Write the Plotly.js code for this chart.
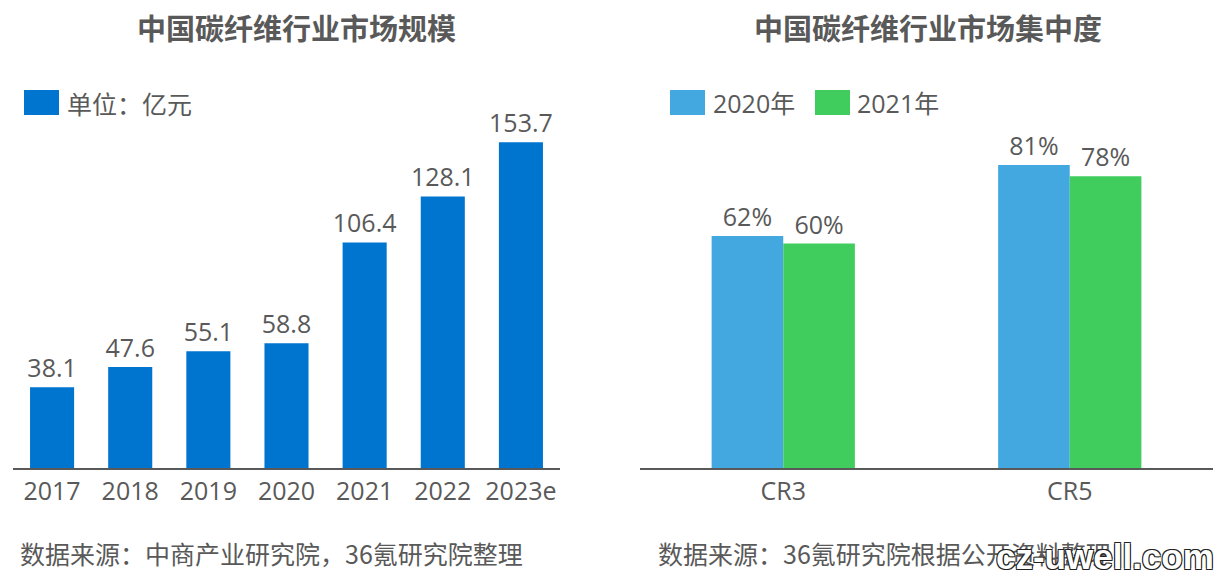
<!DOCTYPE html>
<html>
<head>
<meta charset="utf-8">
<script src="https://cdn.plot.ly/plotly-3.0.1.min.js"></script>
<style>
  body { margin: 0; background: #fff; }
  #chart { width: 1224px; height: 584px; }
</style>
</head>
<body>
<div id="chart"></div>
<script>
// left chart: market size (亿元)
var years = ['2017', '2018', '2019', '2020', '2021', '2022', '2023e'];
var marketSize = [38.1, 47.6, 55.1, 58.8, 106.4, 128.1, 153.7];

// right chart: concentration
var crCats = ['CR3', 'CR5'];
var share2020 = [62, 81];
var share2021 = [60, 78];

var grey = '#595959';
var font = 'Open Sans, Noto Sans CJK SC, sans-serif';
var cjk = 'Noto Sans CJK SC, sans-serif';

var trace1 = {
  x: years,
  y: marketSize,
  type: 'bar',
  xaxis: 'x',
  yaxis: 'y',
  width: 0.564,
  marker: { color: '#0075D0' },
  text: marketSize.map(function (v) { return v.toFixed(1); }),
  textposition: 'outside',
  constraintext: 'none',
  textfont: { family: font, size: 25, color: grey },
  cliponaxis: false,
  showlegend: false
};
var trace2 = {
  x: crCats,
  y: share2020,
  type: 'bar',
  xaxis: 'x2',
  yaxis: 'y2',
  width: 0.25,
  offset: -0.25,
  marker: { color: '#44A8E0' },
  text: share2020.map(function (v) { return v + '%'; }),
  textposition: 'outside',
  constraintext: 'none',
  textfont: { family: font, size: 25, color: grey },
  cliponaxis: false,
  showlegend: false
};
var trace3 = {
  x: crCats,
  y: share2021,
  type: 'bar',
  xaxis: 'x2',
  yaxis: 'y2',
  width: 0.25,
  offset: 0,
  marker: { color: '#41CD5E' },
  text: share2021.map(function (v) { return v + '%'; }),
  textposition: 'outside',
  constraintext: 'none',
  textfont: { family: font, size: 25, color: grey },
  cliponaxis: false,
  showlegend: false
};

var data = [trace1, trace2, trace3];

var xbase = {
  type: 'category',
  showline: true,
  linecolor: grey,
  linewidth: 2,
  ticks: '',
  showgrid: false,
  zeroline: false,
  tickfont: { family: font, size: 25, color: grey },
  fixedrange: true
};
var ybase = {
  visible: false,
  showgrid: false,
  zeroline: false,
  fixedrange: true,
  domain: [0.1986, 0.8288]
};

var layout = {
  width: 1224,
  height: 584,
  margin: { l: 0, r: 0, t: 0, b: 0 },
  paper_bgcolor: '#ffffff',
  plot_bgcolor: '#ffffff',
  barmode: 'overlay',
  xaxis: Object.assign({}, xbase, { domain: [13 / 1224, 560 / 1224], anchor: 'y' }),
  yaxis: Object.assign({}, ybase, { range: [0, 173.6], anchor: 'x' }),
  xaxis2: Object.assign({}, xbase, { domain: [640 / 1224, 1213 / 1224], anchor: 'y2' }),
  yaxis2: Object.assign({}, ybase, { range: [0, 98.4], anchor: 'x2' }),
  shapes: [
    { type: 'rect', xref: 'paper', yref: 'paper', x0: 24 / 1224, x1: 59 / 1224, y0: 1 - 115 / 584, y1: 1 - 90 / 584, fillcolor: '#0075D0', line: { width: 0 } },
    { type: 'rect', xref: 'paper', yref: 'paper', x0: 670 / 1224, x1: 705 / 1224, y0: 1 - 115 / 584, y1: 1 - 90 / 584, fillcolor: '#44A8E0', line: { width: 0 } },
    { type: 'rect', xref: 'paper', yref: 'paper', x0: 815 / 1224, x1: 850 / 1224, y0: 1 - 115 / 584, y1: 1 - 90 / 584, fillcolor: '#41CD5E', line: { width: 0 } }
  ],
  annotations: [
    { text: '<b>中国碳纤维行业市场规模</b>', xref: 'paper', yref: 'paper', x: 296 / 1224, y: 1 - 27 / 584, xanchor: 'center', yanchor: 'middle', showarrow: false, font: { family: cjk, size: 29, color: grey } },
    { text: '<b>中国碳纤维行业市场集中度</b>', xref: 'paper', yref: 'paper', x: 928 / 1224, y: 1 - 27 / 584, xanchor: 'center', yanchor: 'middle', showarrow: false, font: { family: cjk, size: 29, color: grey } },
    { text: '单位：亿元', xref: 'paper', yref: 'paper', x: 65 / 1224, y: 1 - 103 / 584, xanchor: 'left', yanchor: 'middle', showarrow: false, font: { family: cjk, size: 25, color: grey } },
    { text: '2020年', xref: 'paper', yref: 'paper', x: 711 / 1224, y: 1 - 103 / 584, xanchor: 'left', yanchor: 'middle', showarrow: false, font: { family: font, size: 25, color: grey } },
    { text: '2021年', xref: 'paper', yref: 'paper', x: 855 / 1224, y: 1 - 103 / 584, xanchor: 'left', yanchor: 'middle', showarrow: false, font: { family: font, size: 25, color: grey } },
    { text: '数据来源：中商产业研究院，36氪研究院整理', xref: 'paper', yref: 'paper', x: 18 / 1224, y: 1 - 553 / 584, xanchor: 'left', yanchor: 'middle', showarrow: false, font: { family: cjk, size: 25, color: grey } },
    { text: '数据来源：36氪研究院根据公开资料整理', xref: 'paper', yref: 'paper', x: 656 / 1224, y: 1 - 553 / 584, xanchor: 'left', yanchor: 'middle', showarrow: false, font: { family: cjk, size: 25, color: grey } },
    { text: '<b>cz-uwell.com</b>', xref: 'paper', yref: 'paper', x: 1216 / 1224, y: 1 - 556 / 584, xanchor: 'right', yanchor: 'middle', showarrow: false,
      font: { family: 'Liberation Sans, sans-serif', size: 35, color: '#ffffff', shadow: '1px 1px 0 #222, -1px -1px 0 #222, 1px -1px 0 #222, -1px 1px 0 #222' } }
  ]
};

Plotly.newPlot('chart', data, layout, { displayModeBar: false, staticPlot: true });
</script>
</body>
</html>
